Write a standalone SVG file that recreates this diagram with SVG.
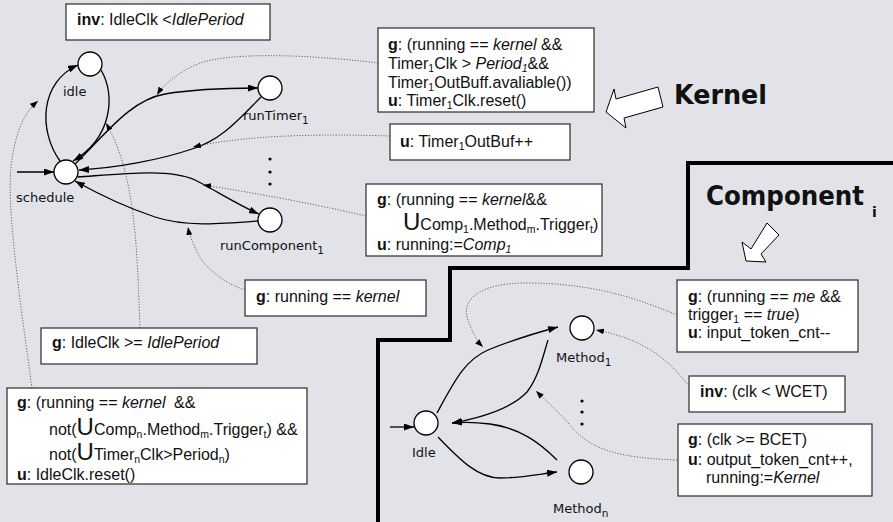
<svg xmlns="http://www.w3.org/2000/svg" width="893" height="522" viewBox="0 0 893 522">
<defs>
<style>
.t{font-family:"Liberation Sans",Arial,sans-serif;font-size:16px;fill:#111}
.lbl{font-family:"DejaVu Sans",Verdana,sans-serif;font-size:13px;fill:#111}
.s{font-size:10.5px}
.U{font-size:24px}
.b{font-weight:bold}
.i{font-style:italic}
.box{fill:#fff;stroke:#3a3a3a;stroke-width:1.3}
.node{fill:#fff;stroke:#000;stroke-width:1.3}
.edge{fill:none;stroke:#000;stroke-width:1.3;marker-end:url(#ah)}
.dot{fill:none;stroke:#666;stroke-width:1;stroke-dasharray:1.2 1.6;marker-end:url(#ahs)}
.big{font-family:"DejaVu Sans",sans-serif;font-weight:bold;font-size:26px;fill:#111}
.outl{fill:#fff;stroke:#000;stroke-width:1}
</style>
<marker id="ah" markerWidth="10" markerHeight="7" refX="10" refY="3.5" orient="auto" markerUnits="userSpaceOnUse"><path d="M0,0 L10,3.5 L0,7 z" fill="#000"/></marker>
<marker id="ahs" markerWidth="8" markerHeight="6" refX="8" refY="3" orient="auto" markerUnits="userSpaceOnUse"><path d="M0,0 L8,3 L0,6 z" fill="#000"/></marker>
</defs>
<rect width="893" height="522" fill="#e2e3e8"/>

<!-- partition line -->
<polyline points="893,163 688,163 688,268 450,268 450,340 378,340 378,522" fill="none" stroke="#000" stroke-width="4"/>

<!-- big labels and outline arrows -->
<text class="big" x="674" y="104" textLength="93" lengthAdjust="spacingAndGlyphs">Kernel</text>
<polygon class="outl" points="606,112 614,89 616,99 658,87 663,107 624,118 626,128"/>
<text class="big" x="706" y="205" textLength="158" lengthAdjust="spacingAndGlyphs">Component</text>
<text class="big" x="872" y="217" style="font-size:14px">i</text>
<polygon class="outl" points="746,261 742,242 751,249 767,223 779,235 761,254 766,262"/>

<!-- connectors -->
<g id="connectors">
<path class="edge" d="M17 172 L54 172"/>
<path class="edge" d="M60 161 C38 130 40 82 78 65"/>
<path class="edge" d="M101 70 C116 95 112 138 73 161"/>
<path class="edge" d="M75 164 C105 135 130 100 165 94 C195 89 225 88 258 88"/>
<path class="edge" d="M261 97 C240 118 222 140 192 149 C160 160 115 168 79 170"/>
<path class="edge" d="M78 177 C120 174 170 168 195 180 C215 190 238 205 259 214"/>
<path class="edge" d="M258 221 C220 224 185 227 155 217 C125 207 100 195 75 181"/>
<path class="dot" d="M378 63 C330 57 240 50 200 63 C178 72 163 85 157 95"/>
<path class="dot" d="M390 136 C330 134 250 134 193 147"/>
<path class="dot" d="M366 216 C320 205 250 192 203 185"/>
<path class="dot" d="M245 290 C222 282 205 268 197 252 C192 241 189 233 188 227"/>
<path class="dot" d="M140 328 C137 250 136 175 106 123"/>
<path class="dot" d="M32 388 C20 300 5 200 12 160 C16 130 25 112 38 101"/>

<path class="edge" d="M390 427 L414 427"/>
<path class="edge" d="M437 413 C455 380 465 360 488 350 C510 341 532 334 558 327"/>
<path class="edge" d="M548 340 C542 360 538 378 527 392 C510 410 480 418 452 423"/>
<path class="edge" d="M557 460 C540 443 520 428 490 424 C475 422 463 422 452 423"/>
<path class="edge" d="M438 437 C460 460 478 478 500 478 C520 478 540 474 557 472"/>
<path class="dot" d="M677 315 C640 300 600 284 530 283 C480 282 460 300 468 320 C472 332 478 342 483 347"/>
<path class="dot" d="M689 386 C670 362 648 340 596 330"/>
<path class="dot" d="M677 460 C620 458 590 450 570 425 C557 410 545 400 536 391"/>
</g>

<!-- ellipsis dots -->
<g fill="#000">
<circle cx="270" cy="159" r="1.6"/><circle cx="270" cy="172" r="1.6"/><circle cx="270" cy="184" r="1.6"/>
<circle cx="582" cy="401" r="1.6"/><circle cx="582" cy="412" r="1.6"/><circle cx="582" cy="424" r="1.6"/>
</g>

<!-- nodes -->
<g id="idle"><circle class="node" cx="90" cy="64" r="12"/><text class="lbl" x="63" y="96">idle</text></g>
<g id="schedule"><circle class="node" cx="66" cy="172" r="12"/><text class="lbl" x="16" y="202">schedule</text></g>
<g id="runTimer1"><circle class="node" cx="270" cy="88" r="12"/><text class="lbl" x="243" y="120">runTimer<tspan class="s" dy="4">1</tspan></text></g>
<g id="runComponent1"><circle class="node" cx="270" cy="220" r="12"/><text class="lbl" x="220" y="250">runComponent<tspan class="s" dy="4">1</tspan></text></g>
<g id="Idle"><circle class="node" cx="426" cy="423" r="12"/><text class="lbl" x="412" y="457">Idle</text></g>
<g id="Method1"><circle class="node" cx="582" cy="328" r="12"/><text class="lbl" x="556" y="362">Method<tspan class="s" dy="4">1</tspan></text></g>
<g id="Methodn"><circle class="node" cx="581" cy="472" r="12"/><text class="lbl" x="553" y="513">Method<tspan class="s" dy="4">n</tspan></text></g>

<!-- annotation boxes -->
<g id="box-inv-idle"><rect class="box" x="66" y="4" width="204" height="36"/>
<text class="t" x="77" y="25"><tspan class="b">inv</tspan>: IdleClk &lt;<tspan class="i">IdlePeriod</tspan></text></g>

<g id="box-timer-guard"><rect class="box" x="378" y="28" width="216" height="84"/>
<text class="t" x="388" y="50"><tspan class="b">g</tspan>: (running == <tspan class="i">kernel</tspan> &amp;&amp;</text>
<text class="t" x="388" y="69">Timer<tspan class="s" dy="3">1</tspan><tspan dy="-3">Clk &gt; </tspan><tspan class="i">Period</tspan><tspan class="s i" dy="3">1</tspan><tspan dy="-3">&amp;&amp;</tspan></text>
<text class="t" x="388" y="88">Timer<tspan class="s" dy="3">1</tspan><tspan dy="-3">OutBuff.avaliable())</tspan></text>
<text class="t" x="388" y="106"><tspan class="b">u</tspan>: Timer<tspan class="s" dy="3">1</tspan><tspan dy="-3">Clk.reset()</tspan></text></g>

<g id="box-timer-update"><rect class="box" x="390" y="124" width="180" height="36"/>
<text class="t" x="400" y="147"><tspan class="b">u</tspan>: Timer<tspan class="s" dy="3">1</tspan><tspan dy="-3">OutBuf++</tspan></text></g>

<g id="box-comp-guard"><rect class="box" x="366" y="184" width="236" height="72"/>
<text class="t" x="377" y="205"><tspan class="b">g</tspan>: (running == <tspan class="i">kernel</tspan>&amp;&amp;</text>
<text class="t" x="403" y="230"><tspan class="U">U</tspan>Comp<tspan class="s" dy="3">1</tspan><tspan dy="-3">.Method</tspan><tspan class="s" dy="3">m</tspan><tspan dy="-3">.Trigger</tspan><tspan class="s" dy="3">t</tspan><tspan dy="-3">)</tspan></text>
<text class="t" x="377" y="250"><tspan class="b">u</tspan>: running:=<tspan class="i">Comp</tspan><tspan class="s i" dy="3">1</tspan></text></g>

<g id="box-kernel-guard"><rect class="box" x="245" y="280" width="181" height="36"/>
<text class="t" x="256" y="302"><tspan class="b">g</tspan>: running == <tspan class="i">kernel</tspan></text></g>

<g id="box-idle-guard"><rect class="box" x="41" y="328" width="216" height="36"/>
<text class="t" x="52" y="348"><tspan class="b">g</tspan>: IdleClk &gt;= <tspan class="i">IdlePeriod</tspan></text></g>

<g id="box-idle-enter"><rect class="box" x="7" y="388" width="300" height="96"/>
<text class="t" x="17" y="408"><tspan class="b">g</tspan>: (running == <tspan class="i">kernel</tspan><tspan dx="4"> &amp;&amp;</tspan></text>
<text class="t" x="49" y="435">not(<tspan class="U">U</tspan>Comp<tspan class="s" dy="3">n</tspan><tspan dy="-3">.Method</tspan><tspan class="s" dy="3">m</tspan><tspan dy="-3">.Trigger</tspan><tspan class="s" dy="3">t</tspan><tspan dy="-3">) &amp;&amp;</tspan></text>
<text class="t" x="49" y="460">not(<tspan class="U">U</tspan>Timer<tspan class="s" dy="3">n</tspan><tspan dy="-3">Clk&gt;Period</tspan><tspan class="s" dy="3">n</tspan><tspan dy="-3">)</tspan></text>
<text class="t" x="17" y="480"><tspan class="b">u</tspan>: IdleClk.reset()</text></g>

<g id="box-method-guard"><rect class="box" x="677" y="280" width="181" height="72"/>
<text class="t" x="688" y="302"><tspan class="b">g</tspan>: (running == <tspan class="i">me</tspan> &amp;&amp;</text>
<text class="t" x="688" y="320">trigger<tspan class="s" dy="3">1</tspan><tspan dy="-3"> == </tspan><tspan class="i">true</tspan>)</text>
<text class="t" x="688" y="338"><tspan class="b">u</tspan>: input_token_cnt--</text></g>

<g id="box-inv-wcet"><rect class="box" x="689" y="376" width="156" height="36"/>
<text class="t" x="700" y="397"><tspan class="b">inv</tspan>: (clk &lt; WCET)</text></g>

<g id="box-bcet"><rect class="box" x="678" y="424" width="194" height="72"/>
<text class="t" x="688" y="445"><tspan class="b">g</tspan>: (clk &gt;= BCET)</text>
<text class="t" x="688" y="465"><tspan class="b">u</tspan>: output_token_cnt++,</text>
<text class="t" x="706" y="483">running:=<tspan class="i">Kernel</tspan></text></g>
</svg>
